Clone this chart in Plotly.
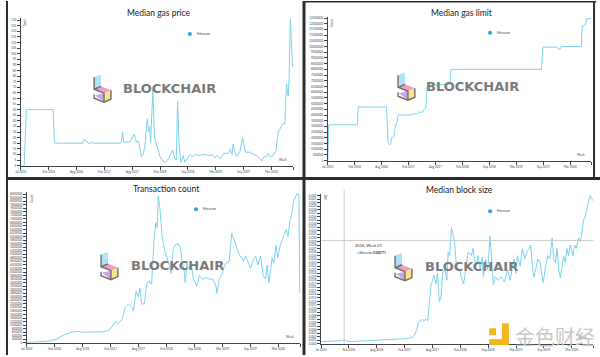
import plotly.graph_objects as go

W, H = 600, 357

# ---------------- data (week index since Jul 2015) ----------------
tick_labels = ["Jul 2015", "Feb 2016", "Aug 2016", "Feb 2017", "Aug 2017",
               "Feb 2018", "Sep 2018", "Mar 2019", "Sep 2019", "Mar 2020", ""]
tick_weeks = [0, 27, 54, 81, 108, 135, 162, 189, 216, 243, 264]

gas_price_weeks = [0, 3.2, 5.4, 31.4, 32.6, 59.8, 61.4, 63, 65.6, 68.2, 69.1, 70.4, 96, 97.6, 98.6, 99.8,
                   105.6, 109.8, 112, 113.6, 114.6, 116.8, 118.4, 120, 122.6, 123.8, 124.8, 125.8, 128,
                   129.6, 131.2, 132.8, 135, 137.6, 140.2, 142.4, 144.6, 147.2, 149.4, 150.7, 152, 153.3,
                   155.2, 157.4, 159, 161.6, 164.2, 166.4, 169.6, 172.8, 177.6, 182.4, 185.6, 187.8, 190.4,
                   193.6, 195.2, 196.8, 201.6, 203.2, 204.8, 205.8, 208, 209.6, 212.2, 215, 217.6, 222.4,
                   225.6, 228.8, 232, 233.6, 235.8, 238.4, 240, 241.6, 244.8, 247.4, 249.6, 251.2, 254.4,
                   256, 257.6, 259.2, 260.2, 261.4, 263.4]
gas_price_gwei = [0, 0, 50, 50, 20, 20, 24, 22, 20, 20, 21, 20, 20, 21, 30, 21,
                  21, 28, 21, 22, 20, 8, 10, 15, 42, 30, 35, 20, 68,
                  25, 20, 15, 8, 4, 3, 5, 9, 14, 6, 5, 57, 20,
                  3, 9, 3, 6, 10, 8, 10, 9, 10, 9, 10, 7, 9,
                  6, 8, 11, 11, 15, 10, 19, 10, 8, 12, 25, 12, 12,
                  10, 9, 6, 4, 8, 8, 11, 8, 9, 13, 30, 33, 38,
                  37, 73, 62, 80, 131, 88]

gas_limit_weeks = [0, 1, 29.8, 30.5, 58.9, 60.6, 62.2, 63.2, 63.9, 66.2, 67.9, 69.5, 70.5, 84.4, 86.1,
                   89.4, 91, 95, 96.3, 98.3, 99.6, 101, 122.5, 123.5, 214.2, 215.8, 230, 232.4, 234,
                   254.2, 255.2, 258.2, 259.8, 264]
gas_limit = [5000, 3140000, 3140000, 4700000, 4700000, 1500000, 1400000, 1500000, 2000000, 2050000,
             3000000, 3400000, 4000000, 4000000, 4100000, 4100000, 4250000, 4250000, 4500000, 4600000,
             6400000, 6600000, 6700000, 8000000, 8000000, 9950000, 9950000, 9700000, 10000000,
             10000000, 11800000, 11900000, 12450000, 12450000]

tx_weeks = [0, 12.1, 21.7, 28.1, 32.9, 37.6, 44, 48.8, 53.6, 60, 66.4, 72.7, 79.1, 82.3, 85.5, 88.7,
            91.9, 95.1, 98.3, 101.4, 103, 105.6, 107.8, 109.4, 111, 113.6, 115.8, 118, 120.6, 123.1,
            124.7, 126, 127, 128.6, 130.8, 133.3, 135.6, 137.2, 139.7, 141.3, 142.9, 146.1, 148.3,
            150.2, 151.8, 153.1, 154.7, 156.3, 158.9, 161.1, 164.3, 166.8, 170, 173.2, 176.4, 179.6,
            182.8, 183.7, 186, 188.2, 190.1, 192.4, 195.5, 198.1, 200.3, 202.6, 205.1, 207.4, 209.3,
            211.5, 214, 216.3, 218.8, 221.1, 223.3, 225.9, 228.4, 230.6, 232.2, 233.8, 235.4, 237,
            238.6, 240.8, 242.4, 244, 246.6, 248.8, 250.7, 252.3, 254.6, 256.2, 257.8, 260.9, 262.9,
            263.8]
tx_count_m = [0.02, 0.05, 0.1, 0.19, 0.35, 0.5, 0.6, 0.65, 0.6, 0.62, 0.6, 0.62, 0.7, 0.9, 1.2, 1.1,
              1.3, 2.0, 2.2, 2.0, 1.8, 2.9, 2.6, 3.1, 2.2, 2.2, 3.3, 3.5, 3.3, 6.0,
              6.8, 6.5, 8.3, 7.6, 6.0, 5.2, 4.8, 4.5, 3.9, 5.2, 5.5, 5.6, 5.4,
              4.5, 4.2, 3.4, 4.5, 4.2, 4.4, 3.6, 3.2, 3.8, 3.6, 3.7, 3.6, 3.6,
              3.2, 2.8, 3.6, 3.8, 4.2, 4.5, 4.6, 6.2, 5.8, 5.4, 5.0, 4.8, 4.6,
              4.9, 4.5, 4.2, 4.7, 4.9, 4.4, 4.9, 3.8, 3.6, 4.4, 3.4, 4.0, 4.8,
              4.5, 5.5, 4.8, 5.3, 5.8, 6.1, 6.4, 6.0, 7.0, 7.3, 8.0, 8.4, 8.4,
              2.8]

bs_weeks = [0, 14.4, 20.8, 22.4, 24, 27.2, 40, 52.8, 65.6, 78.4, 84.8, 89.6, 92.8, 94.4, 96.6, 98.2,
            99.8, 101.4, 103.4, 105, 106.6, 108.2, 109.4, 111.4, 113, 114.6, 116.2, 117.8, 120, 121.9,
            123.2, 124.8, 126.4, 128, 129.6, 131.2, 134.4, 136, 138.2, 140.2, 142.4, 145.6, 147.2,
            148.8, 150.4, 152, 154.2, 156.2, 157.4, 159.4, 161.6, 163.8, 165.4, 167, 169, 171.2,
            174.4, 177.6, 180.8, 183.4, 185.6, 187.2, 188.8, 190.4, 193, 195.2, 197.4, 199.4, 201.6,
            203.2, 204.8, 206.4, 208, 210.2, 212.2, 213.4, 215.4, 217.6, 219.8, 221.8, 224, 225.6,
            227.2, 228.8, 230.4, 232, 233.6, 235.2, 236.8, 238.4, 240, 241.6, 244.2, 245.8, 247.4,
            249.6, 251.2, 252.8, 254.4, 256, 257.6, 259.2, 260.8, 262.7, 264]
block_size = [0.0006, 0.0007, 0.0009, 0.0012, 0.0009, 0.0006, 0.0008, 0.001, 0.001, 0.0012, 0.0015,
              0.002, 0.004, 0.006, 0.0065, 0.007, 0.0065, 0.007, 0.0065, 0.012, 0.017, 0.018, 0.0195,
              0.017, 0.02, 0.012, 0.013, 0.02, 0.021, 0.018, 0.026, 0.025, 0.033, 0.031, 0.028, 0.022,
              0.021, 0.019, 0.017, 0.021, 0.026, 0.025, 0.027, 0.024, 0.022, 0.025, 0.021, 0.0246,
              0.019, 0.024, 0.021, 0.0305, 0.024, 0.0167, 0.019, 0.018, 0.019, 0.0175, 0.021, 0.018,
              0.022, 0.024, 0.02, 0.025, 0.022, 0.027, 0.024, 0.026, 0.027, 0.028, 0.022, 0.019,
              0.021, 0.024, 0.023, 0.021, 0.0173, 0.022, 0.025, 0.024, 0.030, 0.024, 0.023, 0.027,
              0.021, 0.0186, 0.022, 0.025, 0.023, 0.027, 0.025, 0.028, 0.025, 0.028, 0.027, 0.030,
              0.029, 0.031, 0.035, 0.036, 0.038, 0.040, 0.042, 0.041, 0.0405]

tx_count = [v * 1e6 for v in tx_count_m]

titles = ["Median gas price", "Median gas limit", "Transaction count", "Median block size"]
units = ["Gwei", "Count", "Count", "MB"]
series_name = "Ethereum"

# ---------------- helpers ----------------
def px(x):
    return x / W

def py(y):
    return 1 - y / H

LINE = "#7ad2ef"
DOT = "#2aa9e0"
FONT = "Lato"

fig = go.Figure()
series = [(gas_price_weeks, gas_price_gwei), (gas_limit_weeks, gas_limit),
          (tx_weeks, tx_count), (bs_weeks, block_size)]
for i, (xs, ys) in enumerate(series):
    sfx = "" if i == 0 else str(i + 1)
    fig.add_trace(go.Scatter(x=xs, y=ys, mode="lines", name=series_name,
                             line=dict(color=LINE, width=1), xaxis="x" + sfx, yaxis="y" + sfx,
                             showlegend=False, hoverinfo="skip"))

# panel geometry (pixels): x0, x1, ytop, ybottom, yrange, dtick, tickformat
panels = [
    (15, 290, 17, 166, [0, 132], 5, "d"),
    (325, 591, 16, 161, [0, 12600000], 500000, "d"),
    (21, 297, 193, 344.7, [0, 8500000], 200000, "d"),
    (318.3, 593.3, 194.5, 345.7, [0, 0.0425], 0.001, ".3f"),
]

layout = dict(width=W, height=H, autosize=False, margin=dict(l=0, r=0, t=0, b=0),
              paper_bgcolor="white", plot_bgcolor="rgba(0,0,0,0)", showlegend=False,
              font=dict(family=FONT, color="#333"))
annotations = []
shapes = []

for i, (x0, x1, yt, yb, yr, dt, tf) in enumerate(panels):
    sfx = "" if i == 0 else str(i + 1)
    layout["xaxis" + sfx] = dict(domain=[px(x0), px(x1)], range=[0, 264], anchor="y" + sfx,
                                 tickmode="array", tickvals=tick_weeks, ticktext=tick_labels,
                                 showline=True, linecolor="#444", linewidth=1, ticks="outside",
                                 ticklen=3, tickwidth=0.8, tickcolor="#444",
                                 tickfont=dict(size=3, color="#444", family=FONT),
                                 showgrid=False, zeroline=False, fixedrange=True)
    layout["yaxis" + sfx] = dict(domain=[py(yb), py(yt)], range=yr, anchor="x" + sfx,
                                 dtick=dt, tick0=0, tickformat=tf,
                                 showline=True, linecolor="#444", linewidth=1, ticks="outside",
                                 ticklen=3, tickwidth=0.8, tickcolor="#444",
                                 tickfont=dict(size=3, color="#444", family=FONT),
                                 showgrid=False, zeroline=False, fixedrange=True)
    # axis unit labels
    annotations.append(dict(x=px(x0 + 5), y=py(yt - 1), xref="paper", yref="paper", text=units[i],
                            textangle=-90, showarrow=False, font=dict(size=3, color="#444"),
                            xanchor="center", yanchor="top"))
    annotations.append(dict(x=px(x1 - 4), y=py(yb - 2), xref="paper", yref="paper", text="Week",
                            showarrow=False, font=dict(size=3, color="#444"),
                            xanchor="right", yanchor="bottom"))

# titles
title_pos = [(155, 12), (460, 12), (162, 190), (458, 191)]
for t, (tx, ty) in zip(titles, title_pos):
    annotations.append(dict(x=px(tx), y=py(ty), xref="paper", yref="paper", text=t, showarrow=False,
                            font=dict(size=8.5, color="#1a1a1a", family=FONT),
                            xanchor="center", yanchor="middle"))

# legends
legend_pos = [(185.7, 33.3), (489, 32), (192, 210), (489, 212)]
for lx, ly in legend_pos:
    r = 2.1
    shapes.append(dict(type="circle", xref="paper", yref="paper",
                       x0=px(lx - r), x1=px(lx + r), y0=py(ly + r), y1=py(ly - r),
                       fillcolor=DOT, line=dict(width=0)))
    annotations.append(dict(x=px(lx + 5), y=py(ly), xref="paper", yref="paper", text=series_name,
                            showarrow=False, font=dict(size=3, color="#333"),
                            xanchor="left", yanchor="middle"))

# BLOCKCHAIR watermark
def poly(pts, ox, oy):
    s = "M " + " L ".join(f"{px(ox + a):.5f},{py(oy + b):.5f}" for a, b in pts)
    return s

def logo(ox, oy, tx, ty):
    parts = [
        ([(1, 3), (8, 0), (8, 12), (1, 15)], "#aee2f5"),
        ([(1, 15), (8, 12), (18, 16), (11, 19)], "#f39bc9"),
        ([(11, 19), (18, 16), (18, 25), (11, 28)], "#f8e680"),
        ([(2, 21), (11, 19), (11, 28)], "#c7a5e6"),
    ]
    for pts, col in parts:
        shapes.append(dict(type="path", xref="paper", yref="paper", path=poly(pts, ox, oy) + " Z",
                           fillcolor=col, line=dict(width=0), layer="below"))
    for pts in ([(1, 3), (1, 15), (11, 19), (11, 28)],
                [(1, 20), (1, 24), (11, 28), (18, 25), (18, 16)],
                [(1, 15), (8, 12)]):
        shapes.append(dict(type="path", xref="paper", yref="paper", path=poly(pts, ox, oy),
                           line=dict(color="#6e6e6e", width=1.4), layer="below"))
    annotations.append(dict(x=px(tx), y=py(ty), xref="paper", yref="paper", text="<b>BLOCKCHAIR</b>",
                            showarrow=False, font=dict(size=13, color="#7a7a7a", family="DejaVu Sans"),
                            xanchor="center", yanchor="middle"))

logo(88, 74, 165, 88)
logo(395, 72, 471, 86)
logo(95, 253, 173, 267)
logo(392, 254, 470, 268)

# crosshair + tooltip on block size panel
shapes.append(dict(type="line", xref="x4", yref="paper", x0=22.4, x1=22.4,
                   y0=py(345.7), y1=py(190), line=dict(color="#cccccc", width=1)))
shapes.append(dict(type="line", xref="paper", yref="y4", x0=px(318.3), x1=px(593.3),
                   y0=0.0293, y1=0.0293, line=dict(color="#cccccc", width=1)))
annotations.append(dict(x=px(351), y=py(247), xref="paper", yref="paper", text="2016, Week 01",
                        showarrow=False, font=dict(size=4, color="#333"), xanchor="left", yanchor="middle"))
annotations.append(dict(x=px(353), y=py(254), xref="paper", yref="paper",
                        text="<span style='color:#2aa9e0'>●</span> Ethereum <b>0.000771</b>",
                        showarrow=False, font=dict(size=3, color="#333"), xanchor="left", yanchor="middle"))

# Jinse watermark (bottom right)
for pts in ([(488, 330), (495, 330), (495, 337), (488, 337)],
            [(501, 325), (508, 325), (508, 347), (501, 347)],
            [(488, 341), (508, 341), (508, 347), (488, 347)]):
    shapes.append(dict(type="path", xref="paper", yref="paper", path=poly(pts, 0, 0) + " Z",
                       fillcolor="#f3b61f", line=dict(width=0)))
annotations.append(dict(x=px(555), y=py(338), xref="paper", yref="paper", text="金色财经",
                        showarrow=False, font=dict(size=20, color="#c9c9c9", family="Noto Sans CJK SC"),
                        xanchor="center", yanchor="middle"))

# panel separators / borders
DARK = "#2b2b2b"
for (a, b, c, d) in [(0, 0, 2, H), (299.5, 0, 302.5, H), (0, 177.5, W, 180.5),
                     (302, 0, 596, 1.5), (593, 0, 595, 178)]:
    shapes.append(dict(type="rect", xref="paper", yref="paper", x0=px(a), x1=px(c),
                       y0=py(d), y1=py(b), fillcolor=DARK, line=dict(width=0)))

layout["annotations"] = annotations
layout["shapes"] = shapes
fig.update_layout(**layout)
fig.write_html("out.html", config={"displayModeBar": False},
               post_script="document.body.style.margin='0';document.body.style.overflow='hidden';")
